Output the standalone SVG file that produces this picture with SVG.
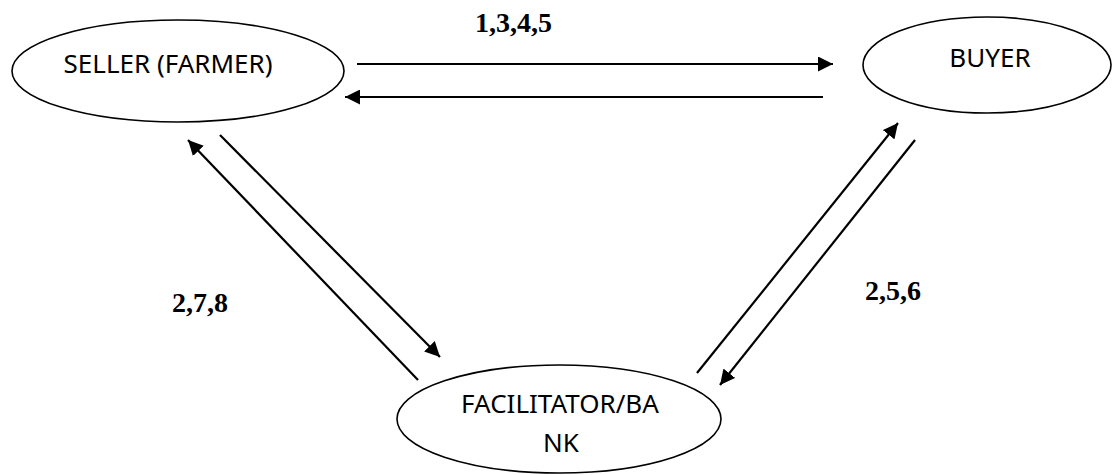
<svg xmlns="http://www.w3.org/2000/svg" width="1113" height="475" viewBox="0 0 1113 475">
<style>
.node ellipse{fill:#fff;stroke:#000;stroke-width:1.6}
.lbl{font-family:"Noto Sans","Open Sans",sans-serif;font-size:26px;fill:#000;text-anchor:middle}
.num{font-family:"Liberation Serif",serif;font-size:28px;font-weight:bold;fill:#000}
.conn line{stroke:#000;stroke-width:2.2;marker-end:url(#ah)}
</style>
<defs>
<marker id="ah" markerUnits="userSpaceOnUse" markerWidth="16" markerHeight="15" refX="15" refY="7.5" orient="auto">
<path d="M0,0 L15,7.5 L0,15 z" fill="#000"/>
</marker>
</defs>
<rect width="1113" height="475" fill="#fff"/>
<g id="seller" class="node">
<ellipse cx="178" cy="71" rx="166" ry="51"/>
<text class="lbl" x="168" y="73">SELLER (FARMER)</text>
</g>
<g id="buyer" class="node">
<ellipse cx="987" cy="65" rx="124" ry="48"/>
<text class="lbl" x="990" y="67">BUYER</text>
</g>
<g id="facilitator" class="node">
<ellipse cx="559" cy="419" rx="162" ry="54"/>
<text class="lbl" x="560" y="413">FACILITATOR/BA</text>
<text class="lbl" x="561" y="452">NK</text>
</g>
<g id="connectors" class="conn">
<line x1="357" y1="64" x2="833" y2="64"/>
<line x1="823" y1="97" x2="345" y2="97"/>
<line x1="418" y1="380" x2="188" y2="140"/>
<line x1="220" y1="135" x2="440" y2="357"/>
<line x1="697" y1="373" x2="898" y2="123"/>
<line x1="915" y1="140" x2="720" y2="385"/>
</g>
<g id="labels">
<text class="num" x="475" y="32">1,3,4,5</text>
<text class="num" x="172" y="312">2,7,8</text>
<text class="num" x="865" y="300">2,5,6</text>
</g>
</svg>
